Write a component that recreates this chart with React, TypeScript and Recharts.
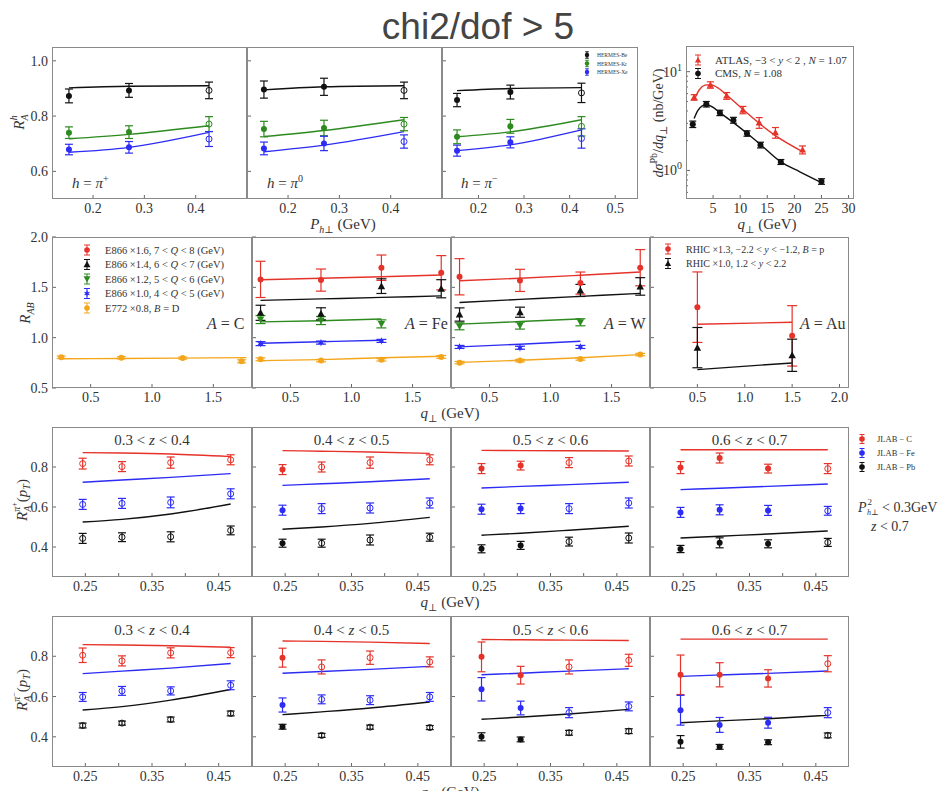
import React from 'react';
import { ComposedChart, XAxis, YAxis, Line, Scatter, ErrorBar } from 'recharts';

const RED = '#e5332a';
const BLUE = '#2c2cf4';
const GREEN = '#2d8a1f';
const ORANGE = '#f3a61c';
const BLACK = '#111111';
const FRAME = '#8a8a8a';
const TXT = '#333333';
const SERIF = '"Liberation Serif", "DejaVu Serif", serif';

// ---------------- Row 1 : HERMES ----------------
const hermesX = [0.153, 0.27, 0.426];
const hermesOpen = [0, 0, 1];
const hPipBe = [0.873, 0.893, 0.893];
const hPipBeE = [0.025, 0.025, 0.03];
const hPipKr = [0.74, 0.742, 0.771];
const hPipKrE = [0.021, 0.023, 0.027];
const hPipXe = [0.679, 0.687, 0.717];
const hPipXeE = [0.019, 0.021, 0.027];
const hPipBeT = [0.902, 0.908, 0.91];
const hPipKrT = [0.718, 0.734, 0.765];
const hPipXeT = [0.669, 0.687, 0.741];

const hPi0Be = [0.896, 0.906, 0.893];
const hPi0BeE = [0.031, 0.031, 0.03];
const hPi0Kr = [0.753, 0.757, 0.771];
const hPi0KrE = [0.028, 0.028, 0.024];
const hPi0Xe = [0.683, 0.701, 0.708];
const hPi0XeE = [0.023, 0.026, 0.024];
const hPi0BeT = [0.895, 0.906, 0.91];
const hPi0KrT = [0.726, 0.748, 0.787];
const hPi0XeT = [0.671, 0.695, 0.744];

const hPimBe = [0.858, 0.887, 0.884];
const hPimBeE = [0.024, 0.025, 0.035];
const hPimKr = [0.725, 0.763, 0.763];
const hPimKrE = [0.025, 0.025, 0.035];
const hPimXe = [0.675, 0.705, 0.719];
const hPimXeE = [0.02, 0.02, 0.035];
const hPimBeT = [0.892, 0.9, 0.903];
const hPimKrT = [0.725, 0.743, 0.787];
const hPimXeT = [0.675, 0.696, 0.75];

// ---------------- Row 1 : ATLAS / CMS ----------------
const cmsX = [1.25, 3.75, 6.25, 8.75, 11.25, 13.75, 17.5, 25];
const cmsY = [2.94, 4.69, 3.83, 3.23, 2.37, 1.81, 1.22, 0.774];
const cmsE = [0.22, 0.3, 0.24, 0.22, 0.15, 0.12, 0.07, 0.05];
const cmsTX = [1.5, 2.2, 3.0, 3.75, 5.0, 6.25, 8.75, 11.25, 13.75, 17.5, 21.0, 25];
const cmsTY = [3.35, 4.05, 4.5, 4.62, 4.35, 3.85, 3.05, 2.38, 1.83, 1.22, 0.97, 0.755];
const atlasX = [1.5, 4.5, 7.5, 10.5, 13.5, 16.5, 21.5];
const atlasY = [5.5, 7.35, 5.7, 4.1, 3.05, 2.42, 1.62];
const atlasE = [0.35, 0.55, 0.45, 0.35, 0.38, 0.3, 0.15];
const atlasTX = [1.5, 2.5, 3.5, 4.5, 6.0, 7.5, 10.5, 13.5, 16.5, 21.5];
const atlasTY = [5.2, 6.6, 7.3, 7.4, 6.8, 5.8, 4.15, 3.0, 2.25, 1.55];

// ---------------- Row 2 : E866 / E772 / RHIC ----------------
const qX = [0.255, 0.75, 1.245, 1.735];
const qXcurveC = [0.255, 0.75, 1.245, 1.77];
const cOrangeX = [0.26, 0.75, 1.25, 1.73];
const cOrange = [0.805, 0.8, 0.797, 0.765];
const cOrangeE = [0.012, 0.01, 0.01, 0.015];
const cOrangeT = [0.79, 0.793, 0.797, 0.802];

const feRed = [1.579, 1.572, 1.695, 1.645];
const feRedE = [0.18, 0.11, 0.126, 0.17];
const feRedT = [1.575, 1.59, 1.605, 1.622];
const feBlack = [1.247, 1.237, 1.512, 1.486];
const feBlackE = [0.075, 0.06, 0.073, 0.09];
const feBlackT = [1.37, 1.385, 1.4, 1.415];
const feGreen = [1.18, 1.17, 1.137];
const feGreenE = [0.04, 0.04, 0.04];
const feGreenT = [1.157, 1.168, 1.185];
const feBlue = [0.941, 0.951, 0.968];
const feBlueE = [0.02, 0.015, 0.015];
const feBlueT = [0.945, 0.96, 0.975];
const feOrange = [0.785, 0.772, 0.78, 0.809];
const feOrangeE = [0.014, 0.012, 0.012, 0.014];
const feOrangeT = [0.772, 0.782, 0.8, 0.816];

const wRed = [1.605, 1.569, 1.542, 1.695];
const wRedE = [0.18, 0.11, 0.11, 0.18];
const wRedT = [1.566, 1.59, 1.62, 1.652];
const wBlack = [1.23, 1.253, 1.469, 1.509];
const wBlackE = [0.066, 0.05, 0.06, 0.087];
const wBlackT = [1.35, 1.38, 1.41, 1.44];
const wGreen = [1.113, 1.12, 1.153];
const wGreenE = [0.035, 0.035, 0.035];
const wGreenT = [1.134, 1.16, 1.187];
const wBlue = [0.908, 0.9, 0.908];
const wBlueE = [0.015, 0.015, 0.015];
const wBlueT = [0.908, 0.935, 0.964];
const wOrange = [0.752, 0.772, 0.789, 0.832];
const wOrangeE = [0.012, 0.012, 0.012, 0.012];
const wOrangeT = [0.755, 0.775, 0.8, 0.832];

const rhicX = [0.5, 1.5];
const auRed = [1.303, 1.018];
const auRedE = [0.35, 0.3];
const auRedT = [1.134, 1.153];
const auBlack = [0.901, 0.825];
const auBlackE = [0.2, 0.16];
const auBlackT = [0.683, 0.749];

// ---------------- Rows 3-4 : JLAB ----------------
const jlabX = [0.246, 0.305, 0.378, 0.468];
const zLo = [0.3, 0.4, 0.5, 0.6];
const zHi = [0.4, 0.5, 0.6, 0.7];
const jlabOpen = [[1, 1, 1, 1], [0, 1, 1, 1], [0, 0, 1, 1], [0, 0, 0, 1]];

const pipC = [[0.817, 0.802, 0.822, 0.836], [0.787, 0.8, 0.822, 0.836], [0.792, 0.807, 0.822, 0.83], [0.797, 0.845, 0.792, 0.792]];
const pipCE = [[0.027, 0.025, 0.028, 0.025], [0.025, 0.025, 0.028, 0.025], [0.025, 0.022, 0.025, 0.025], [0.03, 0.025, 0.022, 0.025]];
const pipCT = [[0.872, 0.87, 0.865, 0.852], [0.882, 0.879, 0.875, 0.868], [0.883, 0.882, 0.881, 0.88], [0.886, 0.886, 0.886, 0.886]];
const pipFe = [[0.613, 0.618, 0.623, 0.666], [0.584, 0.592, 0.595, 0.62], [0.589, 0.592, 0.592, 0.62], [0.573, 0.586, 0.583, 0.581]];
const pipFeE = [[0.025, 0.025, 0.027, 0.025], [0.025, 0.025, 0.025, 0.025], [0.025, 0.025, 0.025, 0.025], [0.025, 0.025, 0.025, 0.022]];
const pipFeT = [[0.724, 0.735, 0.748, 0.767], [0.708, 0.716, 0.726, 0.741], [0.695, 0.703, 0.712, 0.724], [0.687, 0.694, 0.703, 0.715]];
const pipPb = [[0.443, 0.449, 0.451, 0.483], [0.419, 0.419, 0.435, 0.449], [0.391, 0.408, 0.427, 0.445], [0.39, 0.421, 0.416, 0.423]];
const pipPbE = [[0.025, 0.022, 0.025, 0.022], [0.02, 0.02, 0.025, 0.02], [0.02, 0.02, 0.022, 0.025], [0.018, 0.025, 0.02, 0.02]];
const pipPbT = [[0.525, 0.538, 0.565, 0.615], [0.489, 0.5, 0.518, 0.548], [0.459, 0.469, 0.484, 0.504], [0.445, 0.454, 0.465, 0.48]];

const pimC = [[0.805, 0.777, 0.817, 0.818], [0.793, 0.747, 0.793, 0.772], [0.797, 0.706, 0.747, 0.78], [0.708, 0.708, 0.69, 0.763]];
const pimCE = [[0.036, 0.025, 0.025, 0.025], [0.047, 0.035, 0.033, 0.025], [0.074, 0.044, 0.035, 0.03], [0.098, 0.06, 0.043, 0.04]];
const pimCT = [[0.858, 0.856, 0.852, 0.845], [0.876, 0.874, 0.87, 0.863], [0.883, 0.882, 0.88, 0.878], [0.885, 0.885, 0.885, 0.885]];
const pimFe = [[0.598, 0.628, 0.628, 0.656], [0.558, 0.586, 0.582, 0.598], [0.636, 0.543, 0.52, 0.551], [0.532, 0.459, 0.47, 0.52]];
const pimFeE = [[0.022, 0.022, 0.02, 0.022], [0.035, 0.022, 0.022, 0.022], [0.058, 0.034, 0.025, 0.022], [0.074, 0.037, 0.027, 0.025]];
const pimFeT = [[0.714, 0.726, 0.741, 0.764], [0.716, 0.724, 0.735, 0.75], [0.708, 0.716, 0.726, 0.738], [0.7, 0.707, 0.715, 0.727]];
const pimPb = [[0.456, 0.468, 0.486, 0.516], [0.45, 0.407, 0.448, 0.446], [0.4, 0.387, 0.42, 0.428], [0.375, 0.35, 0.373, 0.407]];
const pimPbE = [[0.012, 0.01, 0.012, 0.012], [0.012, 0.01, 0.01, 0.01], [0.02, 0.012, 0.012, 0.012], [0.031, 0.012, 0.012, 0.012]];
const pimPbT = [[0.533, 0.55, 0.582, 0.635], [0.51, 0.524, 0.543, 0.573], [0.487, 0.498, 0.513, 0.536], [0.47, 0.479, 0.49, 0.507]];

// ---------------- helpers ----------------
type P = { x: number; y: number; e: number; o: number };
type C = { x: number; y: number };
const pts = (xs: number[], ys: number[], es: number[], os?: number[]): P[] =>
  ys.map((y, i) => ({ x: xs[i], y, e: es[i], o: os ? os[i] : 0 }));
const crv = (xs: number[], ys: number[]): C[] => ys.map((y, i) => ({ x: xs[i], y }));

type SeriesCfg = { kind: string; color: string; data: P[]; cap: number; r?: number };
type CurveCfg = { color: string; data: C[] };
type PanelCfg = {
  x: number; y: number; w: number; h: number;
  xd: [number, number]; xt: number[]; xl: number[]; xf: (v: number) => string;
  yd: [number, number]; yt: number[]; yl: number[]; yf: (v: number) => string;
  showY: boolean; log?: boolean;
  curves: CurveCfg[]; series: SeriesCfg[];
};

const f1 = (v: number) => v.toFixed(1);
const f2 = (v: number) => v.toFixed(2);
const fi = (v: number) => String(Math.round(v));

function Mark({ kind, color, cx, cy, open, r }: any) {
  if (cx == null || cy == null || isNaN(cx) || isNaN(cy)) return null;
  if (kind === 'tri') {
    const s = r * 1.25;
    return <polygon points={`${cx},${cy - s} ${cx - s},${cy + s * 0.8} ${cx + s},${cy + s * 0.8}`} fill={color} />;
  }
  if (kind === 'triDown') {
    const s = r * 1.25;
    return <polygon points={`${cx},${cy + s} ${cx - s},${cy - s * 0.8} ${cx + s},${cy - s * 0.8}`} fill={color} />;
  }
  if (kind === 'star') {
    const p: string[] = [];
    for (let i = 0; i < 12; i++) {
      const a = (Math.PI / 6) * i - Math.PI / 2;
      const rr = i % 2 === 0 ? r * 1.3 : r * 0.55;
      p.push(`${cx + rr * Math.cos(a)},${cy + rr * Math.sin(a)}`);
    }
    return <polygon points={p.join(' ')} fill={color} />;
  }
  return (
    <circle cx={cx} cy={cy} r={r} fill={open ? 'none' : color} stroke={color} strokeWidth={open ? 1 : 0} />
  );
}

const PAD_L = 44, PAD_R = 6, PAD_T = 6, PAD_B = 26;

function Panel({ c }: { c: PanelCfg }) {
  const W = c.w + PAD_L + PAD_R;
  const H = c.h + PAD_T + PAD_B;
  const near = (arr: number[], v: number) => arr.some((a) => Math.abs(a - v) < 1e-9);
  const xTick = (p: any) => {
    const v = p.payload.value;
    return (
      <g>
        <line x1={p.x} x2={p.x} y1={p.y} y2={p.y - 4} stroke="#555" strokeWidth={0.9} />
        {near(c.xl, v) && (
          <text x={p.x} y={p.y + 14} textAnchor="middle" fontSize={14} fontFamily={SERIF} fill={TXT}>
            {c.xf(v)}
          </text>
        )}
      </g>
    );
  };
  const yTick = (p: any) => {
    const v = p.payload.value;
    const major = near(c.yl, v);
    return (
      <g>
        <line x1={p.x} x2={p.x + (major ? 4 : 2)} y1={p.y} y2={p.y} stroke="#555" strokeWidth={0.9} />
        {major && c.showY && (c.log ? (
          <text x={p.x - 4} y={p.y + 5} textAnchor="end" fontSize={14} fontFamily={SERIF} fill={TXT}>
            10<tspan dy={-6} fontSize={10}>{Math.round(Math.log10(v))}</tspan>
          </text>
        ) : (
          <text x={p.x - 4} y={p.y + 5} textAnchor="end" fontSize={14} fontFamily={SERIF} fill={TXT}>
            {c.yf(v)}
          </text>
        ))}
      </g>
    );
  };
  return (
    <div style={{ position: 'absolute', left: c.x - PAD_L, top: c.y - PAD_T, width: W, height: H }}>
      <ComposedChart width={W} height={H} margin={{ top: PAD_T, right: PAD_R, left: 0, bottom: 0 }}>
        <XAxis type="number" dataKey="x" domain={c.xd} ticks={c.xt} interval={0} allowDataOverflow
          height={PAD_B} tickSize={0} tickMargin={0} axisLine={false} tickLine={false} tick={xTick} />
        <YAxis type="number" dataKey="y" domain={c.yd} ticks={c.yt} interval={0} allowDataOverflow
          width={PAD_L} tickSize={0} tickMargin={0} axisLine={false} tickLine={false} tick={yTick}
          scale={c.log ? 'log' : 'linear'} />
        {c.curves.map((cv, i) => (
          <Line key={'l' + i} data={cv.data} dataKey="y" type="monotone" stroke={cv.color} strokeWidth={1.4}
            dot={false} activeDot={false} isAnimationActive={false} />
        ))}
        {c.series.map((s, i) => (
          <Scatter key={'s' + i} data={s.data} dataKey="y" fill={s.color} isAnimationActive={false}
            shape={(p: any) => (
              <Mark kind={s.kind} color={s.color} cx={p.cx} cy={p.cy}
                open={p.payload ? p.payload.o === 1 : false} r={s.r || 3} />
            )}>
            <ErrorBar dataKey="e" direction="y" width={s.cap} stroke={s.color} strokeWidth={1.2} />
          </Scatter>
        ))}
      </ComposedChart>
      <div style={{ position: 'absolute', left: PAD_L, top: PAD_T, width: c.w, height: c.h,
        border: `1.4px solid ${FRAME}`, boxSizing: 'border-box', pointerEvents: 'none' }} />
    </div>
  );
}

// ---------------- panel configs ----------------
const row1Y = { y: 47, h: 152, yd: [0.5, 1.05] as [number, number], yt: [0.6, 0.8, 1.0], yl: [0.6, 0.8, 1.0], yf: f1 };
const hermesPanel = (x: number, w: number, xd: [number, number], xt: number[], showY: boolean,
  be: number[], beE: number[], kr: number[], krE: number[], xe: number[], xeE: number[],
  beT: number[], krT: number[], xeT: number[]): PanelCfg => ({
  x, w, ...row1Y, xd, xt, xl: xt, xf: f1, showY,
  curves: [
    { color: BLACK, data: crv(hermesX, beT) },
    { color: GREEN, data: crv(hermesX, krT) },
    { color: BLUE, data: crv(hermesX, xeT) },
  ],
  series: [
    { kind: 'circle', color: BLACK, data: pts(hermesX, be, beE, hermesOpen), cap: 4 },
    { kind: 'circle', color: GREEN, data: pts(hermesX, kr, krE, hermesOpen), cap: 4 },
    { kind: 'circle', color: BLUE, data: pts(hermesX, xe, xeE, hermesOpen), cap: 4 },
  ],
});

const panelsRow1: PanelCfg[] = [
  hermesPanel(52, 195, [0.12, 0.5], [0.2, 0.3, 0.4], true, hPipBe, hPipBeE, hPipKr, hPipKrE, hPipXe, hPipXeE, hPipBeT, hPipKrT, hPipXeT),
  hermesPanel(247, 195, [0.12, 0.5], [0.2, 0.3, 0.4], false, hPi0Be, hPi0BeE, hPi0Kr, hPi0KrE, hPi0Xe, hPi0XeE, hPi0BeT, hPi0KrT, hPi0XeT),
  hermesPanel(442, 196, [0.12, 0.55], [0.2, 0.3, 0.4, 0.5], false, hPimBe, hPimBeE, hPimKr, hPimKrE, hPimXe, hPimXeE, hPimBeT, hPimKrT, hPimXeT),
];

const lhcPanel: PanelCfg = {
  x: 686, y: 46, w: 168, h: 153,
  xd: [0, 31], xt: [5, 10, 15, 20, 25, 30], xl: [5, 10, 15, 20, 25, 30], xf: fi,
  yd: [0.514, 18.2], yt: [0.6, 0.7, 0.8, 0.9, 1, 2, 3, 4, 5, 6, 7, 8, 9, 10], yl: [1, 10], yf: fi,
  showY: true, log: true,
  curves: [
    { color: RED, data: crv(atlasTX, atlasTY) },
    { color: BLACK, data: crv(cmsTX, cmsTY) },
  ],
  series: [
    { kind: 'tri', color: RED, data: pts(atlasX, atlasY, atlasE), cap: 3.5, r: 2.8 },
    { kind: 'circle', color: BLACK, data: pts(cmsX, cmsY, cmsE), cap: 3.5 },
  ],
};

const row2Y = { y: 237, h: 151, yd: [0.5, 2.0] as [number, number], yt: [0.5, 1.0, 1.5, 2.0], yl: [0.5, 1.0, 1.5, 2.0], yf: f1 };
const qDom: [number, number] = [0.185, 1.815];
const qTicks = [0.5, 1.0, 1.5];
const x3 = qX.slice(0, 3);

const panelsRow2: PanelCfg[] = [
  {
    x: 52, w: 200, ...row2Y, xd: qDom, xt: qTicks, xl: qTicks, xf: f1, showY: true,
    curves: [{ color: ORANGE, data: crv(qXcurveC, cOrangeT) }],
    series: [{ kind: 'circle', color: ORANGE, data: pts(cOrangeX, cOrange, cOrangeE), cap: 4.5 }],
  },
  {
    x: 252, w: 199, ...row2Y, xd: qDom, xt: qTicks, xl: qTicks, xf: f1, showY: false,
    curves: [
      { color: RED, data: crv(qX, feRedT) },
      { color: BLACK, data: crv(qX, feBlackT) },
      { color: GREEN, data: crv(x3, feGreenT) },
      { color: BLUE, data: crv(x3, feBlueT) },
      { color: ORANGE, data: crv(qX, feOrangeT) },
    ],
    series: [
      { kind: 'circle', color: RED, data: pts(qX, feRed, feRedE), cap: 5 },
      { kind: 'tri', color: BLACK, data: pts(qX, feBlack, feBlackE), cap: 5 },
      { kind: 'triDown', color: GREEN, data: pts(x3, feGreen, feGreenE), cap: 5 },
      { kind: 'star', color: BLUE, data: pts(x3, feBlue, feBlueE), cap: 5 },
      { kind: 'circle', color: ORANGE, data: pts(qX, feOrange, feOrangeE), cap: 5 },
    ],
  },
  {
    x: 451, w: 199, ...row2Y, xd: qDom, xt: qTicks, xl: qTicks, xf: f1, showY: false,
    curves: [
      { color: RED, data: crv(qX, wRedT) },
      { color: BLACK, data: crv(qX, wBlackT) },
      { color: GREEN, data: crv(x3, wGreenT) },
      { color: BLUE, data: crv(x3, wBlueT) },
      { color: ORANGE, data: crv(qX, wOrangeT) },
    ],
    series: [
      { kind: 'circle', color: RED, data: pts(qX, wRed, wRedE), cap: 5 },
      { kind: 'tri', color: BLACK, data: pts(qX, wBlack, wBlackE), cap: 5 },
      { kind: 'triDown', color: GREEN, data: pts(x3, wGreen, wGreenE), cap: 5 },
      { kind: 'star', color: BLUE, data: pts(x3, wBlue, wBlueE), cap: 5 },
      { kind: 'circle', color: ORANGE, data: pts(qX, wOrange, wOrangeE), cap: 5 },
    ],
  },
  {
    x: 650, w: 199, ...row2Y, xd: [0, 2.1], xt: [0.5, 1.0, 1.5, 2.0], xl: [0.5, 1.0, 1.5, 2.0], xf: f1, showY: false,
    curves: [
      { color: RED, data: crv(rhicX, auRedT) },
      { color: BLACK, data: crv(rhicX, auBlackT) },
    ],
    series: [
      { kind: 'circle', color: RED, data: pts(rhicX, auRed, auRedE), cap: 5 },
      { kind: 'tri', color: BLACK, data: pts(rhicX, auBlack, auBlackE), cap: 5 },
    ],
  },
];

const jlabXs = [52, 252, 451, 650];
const jlabWs = [200, 199, 199, 199];
const jlabTicks = [0.25, 0.3, 0.35, 0.4, 0.45];
const jlabLab = [0.25, 0.35, 0.45];
const jlabRow = (y: number, h: number, cc: number[][], ccE: number[][], ccT: number[][],
  fe: number[][], feE: number[][], feT: number[][], pb: number[][], pbE: number[][], pbT: number[][]): PanelCfg[] =>
  [0, 1, 2, 3].map((k) => ({
    x: jlabXs[k], w: jlabWs[k], y, h,
    xd: [0.2, 0.5] as [number, number], xt: jlabTicks, xl: jlabLab, xf: f2,
    yd: [0.25, 1.0] as [number, number], yt: [0.4, 0.6, 0.8], yl: [0.4, 0.6, 0.8], yf: f1, showY: k === 0,
    curves: [
      { color: RED, data: crv(jlabX, ccT[k]) },
      { color: BLUE, data: crv(jlabX, feT[k]) },
      { color: BLACK, data: crv(jlabX, pbT[k]) },
    ],
    series: [
      { kind: 'circle', color: RED, data: pts(jlabX, cc[k], ccE[k], jlabOpen[k]), cap: 4 },
      { kind: 'circle', color: BLUE, data: pts(jlabX, fe[k], feE[k], jlabOpen[k]), cap: 4 },
      { kind: 'circle', color: BLACK, data: pts(jlabX, pb[k], pbE[k], jlabOpen[k]), cap: 4 },
    ],
  }));

const panelsRow3 = jlabRow(427, 150, pipC, pipCE, pipCT, pipFe, pipFeE, pipFeT, pipPb, pipPbE, pipPbT);
const panelsRow4 = jlabRow(616, 151, pimC, pimCE, pimCT, pimFe, pimFeE, pimFeT, pimPb, pimPbE, pimPbT);

// ---------------- overlay texts ----------------
function LegMark({ x, y, kind, color, h, cap, r }: any) {
  return (
    <g>
      <line x1={x} x2={x} y1={y - h} y2={y + h} stroke={color} strokeWidth={1} />
      <line x1={x - cap} x2={x + cap} y1={y - h} y2={y - h} stroke={color} strokeWidth={1} />
      <line x1={x - cap} x2={x + cap} y1={y + h} y2={y + h} stroke={color} strokeWidth={1} />
      <Mark kind={kind} color={color} cx={x} cy={y} r={r} open={false} />
    </g>
  );
}

const It = ({ children, ...rest }: any) => <tspan fontStyle="italic" {...rest}>{children}</tspan>;

function Overlay() {
  const t = { fontFamily: SERIF, fill: TXT } as any;
  const hermesLeg = [
    { c: BLACK, s: 'HERMES-Be', y: 55 },
    { c: GREEN, s: 'HERMES-Kr', y: 63.5 },
    { c: BLUE, s: 'HERMES-Xe', y: 72 },
  ];
  const e866Leg = [
    { c: RED, k: 'circle', a: 'E866 ×1.6, 7 < ', b: ' < 8 (GeV)', y: 250 },
    { c: BLACK, k: 'tri', a: 'E866 ×1.4, 6 < ', b: ' < 7 (GeV)', y: 264.5 },
    { c: GREEN, k: 'triDown', a: 'E866 ×1.2, 5 < ', b: ' < 6 (GeV)', y: 279 },
    { c: BLUE, k: 'star', a: 'E866 ×1.0, 4 < ', b: ' < 5 (GeV)', y: 293.5 },
  ];
  const jlabLeg = [
    { c: RED, s: 'JLAB − C', y: 439 },
    { c: BLUE, s: 'JLAB − Fe', y: 453 },
    { c: BLACK, s: 'JLAB − Pb', y: 467 },
  ];
  const panelCenters = jlabXs.map((x, i) => x + jlabWs[i] / 2);
  return (
    <svg width={943} height={791} style={{ position: 'absolute', left: 0, top: 0, pointerEvents: 'none' }}>
      <text x={478} y={39} textAnchor="middle" fontSize={37} fontFamily='"Liberation Sans", Arial, sans-serif' fill="#444">chi2/dof &gt; 5</text>

      {/* row 1 */}
      <text {...t} fontSize={15} transform="translate(24,122) rotate(-90)" textAnchor="middle">
        <It>R</It><It fontSize={10} dy={4}>A</It><It fontSize={10} dx={-6} dy={-11}>h</It>
      </text>
      <text {...t} fontSize={15} x={72} y={188}><It>h</It> = <It>π</It><tspan fontSize={10} dy={-6}>+</tspan></text>
      <text {...t} fontSize={15} x={267} y={188}><It>h</It> = <It>π</It><tspan fontSize={10} dy={-6}>0</tspan></text>
      <text {...t} fontSize={15} x={461} y={188}><It>h</It> = <It>π</It><tspan fontSize={10} dy={-6}>−</tspan></text>
      <text {...t} fontSize={15} x={343} y={229} textAnchor="middle">
        <It>P</It><It fontSize={10} dy={4}>h⊥</It><tspan dy={-4}> (GeV)</tspan>
      </text>
      {hermesLeg.map((l) => (
        <g key={l.s}>
          <LegMark x={587} y={l.y} kind="circle" color={l.c} h={3.2} cap={1.8} r={2.2} />
          <text {...t} fontSize={5.5} x={597} y={l.y + 2}>{l.s}</text>
        </g>
      ))}

      {/* LHC panel */}
      <LegMark x={698} y={60} kind="tri" color={RED} h={5} cap={3} r={2.5} />
      <text {...t} fontSize={11} x={715} y={63.5}>ATLAS, −3 &lt; <It>y</It> &lt; 2 , <It>N</It> = 1.07</text>
      <LegMark x={698} y={73.5} kind="circle" color={BLACK} h={5} cap={3} r={2.8} />
      <text {...t} fontSize={11} x={715} y={77}>CMS, <It>N</It> = 1.08</text>
      <text {...t} fontSize={14} transform="translate(663,123) rotate(-90)" textAnchor="middle">
        <It>dσ</It><tspan fontSize={10} dy={-6}>Pb</tspan><tspan dy={6}>/</tspan><It>dq</It><tspan fontSize={10} dy={4}>⊥</tspan><tspan dy={-4}> (nb/GeV)</tspan>
      </text>
      <text {...t} fontSize={15} x={767} y={229} textAnchor="middle">
        <It>q</It><tspan fontSize={10} dy={4}>⊥</tspan><tspan dy={-4}> (GeV)</tspan>
      </text>

      {/* row 2 */}
      <text {...t} fontSize={15} transform="translate(30,313) rotate(-90)" textAnchor="middle">
        <It>R</It><It fontSize={10} dy={4}>AB</It>
      </text>
      {e866Leg.map((l) => (
        <g key={l.a}>
          <LegMark x={87} y={l.y} kind={l.k} color={l.c} h={5} cap={3} r={2.8} />
          <text {...t} fontSize={10.5} x={105} y={l.y + 3.5}>{l.a}<It>Q</It>{l.b}</text>
        </g>
      ))}
      <LegMark x={87} y={308} kind="circle" color={ORANGE} h={5} cap={3} r={2.8} />
      <text {...t} fontSize={10.5} x={105} y={311.5}>E772 ×0.8, <It>B</It> = D</text>
      <text {...t} fontSize={16} x={207} y={329}><It>A</It> = C</text>
      <text {...t} fontSize={16} x={405} y={329}><It>A</It> = Fe</text>
      <text {...t} fontSize={16} x={604} y={329}><It>A</It> = W</text>
      <text {...t} fontSize={16} x={800} y={329}><It>A</It> = Au</text>
      <LegMark x={668} y={249} kind="circle" color={RED} h={5} cap={3} r={2.8} />
      <text {...t} fontSize={10} x={686} y={252.5}>RHIC ×1.3,  −2.2 &lt; <It>y</It> &lt; −1.2, <It>B</It> = p</text>
      <LegMark x={668} y={263.5} kind="tri" color={BLACK} h={5} cap={3} r={2.5} />
      <text {...t} fontSize={10} x={686} y={267}>RHIC ×1.0, 1.2 &lt; <It>y</It> &lt; 2.2</text>
      <text {...t} fontSize={15} x={450} y={418} textAnchor="middle">
        <It>q</It><tspan fontSize={10} dy={4}>⊥</tspan><tspan dy={-4}> (GeV)</tspan>
      </text>

      {/* rows 3-4 */}
      {panelCenters.map((cx, i) => (
        <g key={'zt' + i}>
          <text {...t} fontSize={15} x={cx} y={445} textAnchor="middle">{zLo[i].toFixed(1)} &lt; <It>z</It> &lt; {zHi[i].toFixed(1)}</text>
          <text {...t} fontSize={15} x={cx} y={635} textAnchor="middle">{zLo[i].toFixed(1)} &lt; <It>z</It> &lt; {zHi[i].toFixed(1)}</text>
        </g>
      ))}
      <text {...t} fontSize={15} transform="translate(27,500) rotate(-90)" textAnchor="middle">
        <It>R</It><It fontSize={10} dy={4}>A</It><It fontSize={10} dx={-6} dy={-11}>π</It><tspan fontSize={8} dy={-3}>+</tspan><tspan dy={10}>(</tspan><It>p</It><It fontSize={10} dy={3}>T</It><tspan dy={-3}>)</tspan>
      </text>
      <text {...t} fontSize={15} transform="translate(27,690) rotate(-90)" textAnchor="middle">
        <It>R</It><It fontSize={10} dy={4}>A</It><It fontSize={10} dx={-6} dy={-11}>π</It><tspan fontSize={8} dy={-3}>−</tspan><tspan dy={10}>(</tspan><It>p</It><It fontSize={10} dy={3}>T</It><tspan dy={-3}>)</tspan>
      </text>
      {jlabLeg.map((l) => (
        <g key={l.s}>
          <LegMark x={862} y={l.y} kind="circle" color={l.c} h={4.5} cap={2.5} r={2.8} />
          <text {...t} fontSize={8.5} x={877} y={l.y + 3}>{l.s}</text>
        </g>
      ))}
      <text {...t} fontSize={14} x={858} y={512}>
        <It>P</It><tspan fontSize={9} dx={1} dy={-7}>2</tspan><It fontSize={8} dx={-5} dy={10}>h⊥</It><tspan dy={-3}> &lt; 0.3GeV</tspan>
      </text>
      <text {...t} fontSize={14} x={871} y={531}><It>z</It> &lt; 0.7</text>
      <text {...t} fontSize={15} x={450} y={607} textAnchor="middle">
        <It>q</It><tspan fontSize={10} dy={4}>⊥</tspan><tspan dy={-4}> (GeV)</tspan>
      </text>
      <text {...t} fontSize={15} x={450} y={797} textAnchor="middle">
        <It>q</It><tspan fontSize={10} dy={4}>⊥</tspan><tspan dy={-4}> (GeV)</tspan>
      </text>
    </svg>
  );
}

export default function App() {
  const all = [...panelsRow1, lhcPanel, ...panelsRow2, ...panelsRow3, ...panelsRow4];
  return (
    <div style={{ position: 'absolute', left: 0, top: 0, width: 943, height: 791, background: '#fff', overflow: 'hidden' }}>
      {all.map((c, i) => <Panel key={i} c={c} />)}
      <Overlay />
    </div>
  );
}
